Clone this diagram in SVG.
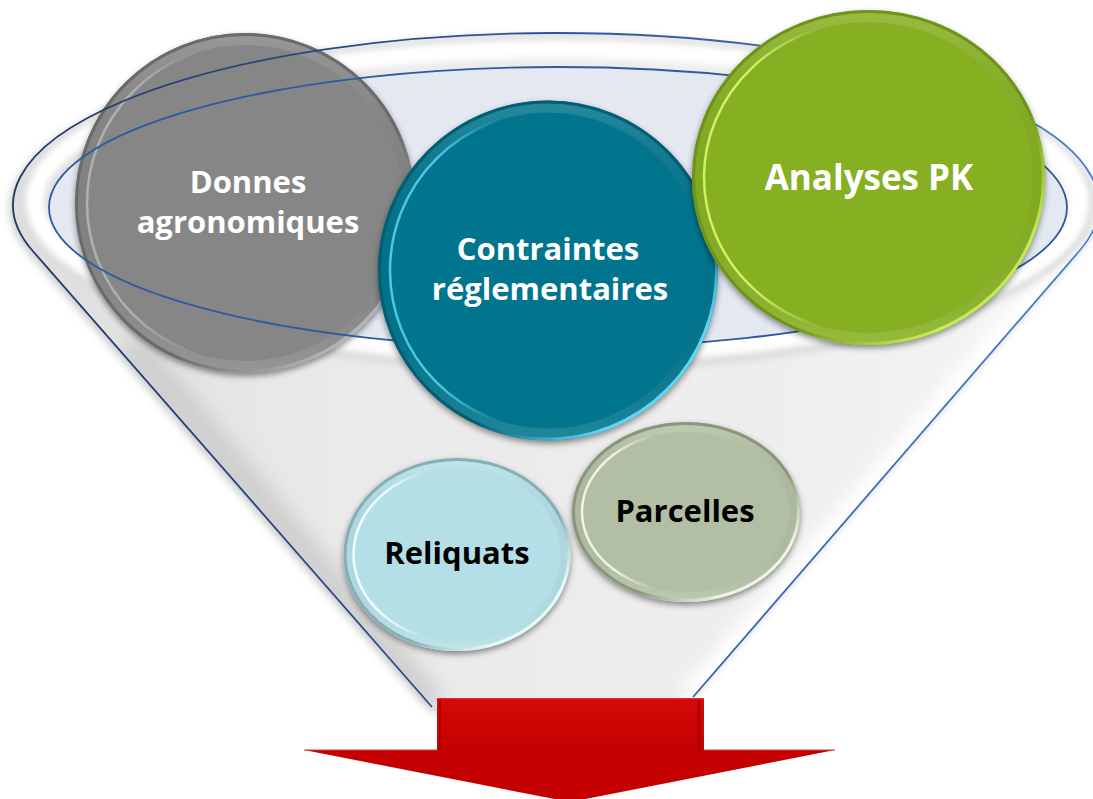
<svg xmlns="http://www.w3.org/2000/svg" width="1093" height="799" viewBox="0 0 1093 799">
<style>
.lbl{font-family:"Open Sans","Noto Sans","DejaVu Sans",sans-serif;font-weight:700;text-anchor:middle;font-size:31px}
.wt{fill:#ffffff}
.bk{fill:#000000}
.big{font-size:35px}
.ring{fill:none}
</style>
<defs>
  <filter id="sh" x="-20%" y="-20%" width="140%" height="140%">
    <feDropShadow dx="0" dy="3" stdDeviation="3" flood-color="#000" flood-opacity="0.45"/>
  </filter>
  <filter id="fsh" x="-10%" y="-10%" width="120%" height="120%">
    <feDropShadow dx="-3" dy="3" stdDeviation="4" flood-color="#000" flood-opacity="0.22"/>
  </filter>
  <filter id="blur3"><feGaussianBlur stdDeviation="3"/></filter>
  <filter id="blur9" x="-20%" y="-20%" width="140%" height="140%"><feGaussianBlur stdDeviation="9"/></filter>
  <clipPath id="funClip">
    <path d="M 432 707 L 32.8 251 A 543 172 0 1 1 1079.7 250.5 L 693 697 Q 690 705 682 705 L 440 708 Q 435 708 432 707 Z"/>
  </clipPath>
  <linearGradient id="body" x1="0" y1="0" x2="1" y2="0">
    <stop offset="0" stop-color="#dedede"/>
    <stop offset="0.3" stop-color="#eaeaea"/>
    <stop offset="0.7" stop-color="#eeeeee"/>
    <stop offset="1" stop-color="#f6f6f6"/>
  </linearGradient>
  <linearGradient id="outline" gradientUnits="userSpaceOnUse" x1="0" y1="0" x2="1093" y2="0">
    <stop offset="0" stop-color="#1f3864"/>
    <stop offset="0.5" stop-color="#2f5597"/>
    <stop offset="1" stop-color="#4a7fd0"/>
  </linearGradient>
  <linearGradient id="ringShade" x1="0" y1="0" x2="0" y2="1">
    <stop offset="0" stop-color="#ffffff" stop-opacity="0.14"/>
    <stop offset="0.5" stop-color="#000000" stop-opacity="0.03"/>
    <stop offset="1" stop-color="#ffffff" stop-opacity="0.12"/>
  </linearGradient>
  <linearGradient id="go-gray" x1="0" y1="0" x2="1" y2="1"><stop offset="0" stop-color="#6a6a6a"/><stop offset="0.62" stop-color="#6a6a6a"/><stop offset="0.85" stop-color="#b5b5b5"/><stop offset="1" stop-color="#c2c2c2"/></linearGradient>
  <linearGradient id="gi-gray" x1="0" y1="0" x2="1" y2="0"><stop offset="0" stop-color="#b0b0b0"/><stop offset="0.15" stop-color="#b0b0b0"/><stop offset="0.35" stop-color="#b0b0b0" stop-opacity="0"/></linearGradient>
  <linearGradient id="go-teal" x1="0" y1="0" x2="1" y2="1"><stop offset="0" stop-color="#045e73"/><stop offset="0.62" stop-color="#045e73"/><stop offset="0.82" stop-color="#5fd6f2"/><stop offset="1" stop-color="#5fd6f2"/></linearGradient>
  <linearGradient id="gi-teal" x1="0" y1="0" x2="1" y2="0"><stop offset="0" stop-color="#4cc8e6"/><stop offset="0.15" stop-color="#4cc8e6"/><stop offset="0.35" stop-color="#4cc8e6" stop-opacity="0"/></linearGradient>
  <linearGradient id="go-green" x1="0" y1="0" x2="1" y2="1"><stop offset="0" stop-color="#6d9418"/><stop offset="0.62" stop-color="#6d9418"/><stop offset="0.82" stop-color="#c3ec52"/><stop offset="1" stop-color="#c3ec52"/></linearGradient>
  <linearGradient id="gi-green" x1="0" y1="0" x2="1" y2="0"><stop offset="0" stop-color="#cdf263"/><stop offset="0.15" stop-color="#cdf263"/><stop offset="0.35" stop-color="#cdf263" stop-opacity="0"/></linearGradient>
  <linearGradient id="go-rel" x1="0" y1="0" x2="1" y2="1"><stop offset="0" stop-color="#86aeb6"/><stop offset="0.62" stop-color="#86aeb6"/><stop offset="0.82" stop-color="#e8fcff"/><stop offset="1" stop-color="#e8fcff"/></linearGradient>
  <linearGradient id="gi-rel" x1="0" y1="0" x2="1" y2="0"><stop offset="0" stop-color="#effdff"/><stop offset="0.15" stop-color="#effdff"/><stop offset="0.35" stop-color="#effdff" stop-opacity="0"/></linearGradient>
  <linearGradient id="go-par" x1="0" y1="0" x2="1" y2="1"><stop offset="0" stop-color="#8a967c"/><stop offset="0.62" stop-color="#8a967c"/><stop offset="0.82" stop-color="#eef6e2"/><stop offset="1" stop-color="#eef6e2"/></linearGradient>
  <linearGradient id="gi-par" x1="0" y1="0" x2="1" y2="0"><stop offset="0" stop-color="#eef6e2"/><stop offset="0.15" stop-color="#eef6e2"/><stop offset="0.35" stop-color="#eef6e2" stop-opacity="0"/></linearGradient>
  <linearGradient id="shaft" x1="0" y1="0" x2="0" y2="1">
    <stop offset="0" stop-color="#d60a0a"/>
    <stop offset="1" stop-color="#c40000"/>
  </linearGradient>
</defs>

<rect width="1093" height="799" fill="#ffffff"/>

<g id="funnel">
  <path d="M 432 707 L 32.8 251 A 543 172 0 1 1 1079.7 250.5 L 693 697 Q 690 705 682 705 L 440 708 Q 435 708 432 707 Z" fill="url(#body)" filter="url(#fsh)"/>
  <g clip-path="url(#funClip)">
    <line x1="130" y1="345" x2="432" y2="707" stroke="#c9c9c9" stroke-width="34" filter="url(#blur9)" opacity="0.8"/>
    <line x1="1082" y1="252" x2="692" y2="703" stroke="#ffffff" stroke-width="34" filter="url(#blur9)"/>
    <ellipse cx="557" cy="204" rx="535" ry="164" fill="none" stroke="#dcdcdc" stroke-width="8" filter="url(#blur3)"/>
    <ellipse cx="557" cy="201" rx="522" ry="152" fill="none" stroke="#ffffff" stroke-width="18" filter="url(#blur3)"/>
  </g>
  <ellipse cx="558" cy="207.5" rx="509" ry="140.5" fill="#e3e8f1"/>
</g>

<g id="node-donnes">
  <circle cx="245" cy="203" r="170" fill="#868686" filter="url(#sh)"/>
  <circle cx="245" cy="203" r="164" class="ring" stroke="url(#ringShade)" stroke-width="12"/>
  <circle cx="245" cy="203" r="168.5" class="ring" stroke="url(#go-gray)" stroke-width="3"/>
  <circle cx="245" cy="203" r="158" class="ring" stroke="url(#gi-gray)" stroke-width="2.5"/>
</g>

<g id="funnel-lines" fill="none">
  <path d="M 432 707 L 32.8 251 A 543 172 0 1 1 1079.7 250.5 L 693 697" stroke="url(#outline)" stroke-width="1.8"/>
  <ellipse cx="558" cy="207.5" rx="509" ry="140.5" stroke="#2d5aa0" stroke-width="1.8"/>
</g>

<g id="node-donnes-text">
  <text class="lbl wt" x="248" y="193">Donnes</text>
  <text class="lbl wt" x="248" y="233">agronomiques</text>
</g>

<g id="node-contraintes">
  <circle cx="548" cy="270.5" r="170" fill="#05748d" filter="url(#sh)"/>
  <circle cx="548" cy="270.5" r="164" class="ring" stroke="url(#ringShade)" stroke-width="12"/>
  <circle cx="548" cy="270.5" r="168.5" class="ring" stroke="url(#go-teal)" stroke-width="3"/>
  <circle cx="548" cy="270.5" r="158" class="ring" stroke="url(#gi-teal)" stroke-width="2.5"/>
  <text class="lbl wt" x="548" y="260">Contraintes</text>
  <text class="lbl wt" x="550" y="300">réglementaires</text>
</g>

<g id="node-analyses">
  <ellipse cx="868.5" cy="177.5" rx="176.5" ry="167.5" fill="#86b021" filter="url(#sh)"/>
  <ellipse cx="868.5" cy="177.5" rx="170.5" ry="161.5" class="ring" stroke="url(#ringShade)" stroke-width="12"/>
  <ellipse cx="868.5" cy="177.5" rx="175" ry="166" class="ring" stroke="url(#go-green)" stroke-width="3"/>
  <ellipse cx="868.5" cy="177.5" rx="164.5" ry="155.5" class="ring" stroke="url(#gi-green)" stroke-width="2.5"/>
  <text class="lbl wt big" x="869" y="190">Analyses PK</text>
</g>

<g id="node-reliquats">
  <ellipse cx="457" cy="554.5" rx="113.5" ry="96.5" fill="#b4dfe6" filter="url(#sh)"/>
  <ellipse cx="457" cy="554.5" rx="108.5" ry="91.5" class="ring" stroke="url(#ringShade)" stroke-width="10"/>
  <ellipse cx="457" cy="554.5" rx="112" ry="95" class="ring" stroke="url(#go-rel)" stroke-width="3"/>
  <ellipse cx="457" cy="554.5" rx="103.5" ry="86.5" class="ring" stroke="url(#gi-rel)" stroke-width="2.5"/>
  <text class="lbl bk" x="457" y="564">Reliquats</text>
</g>

<g id="node-parcelles">
  <ellipse cx="686" cy="512" rx="114" ry="90" fill="#b2bfa4" filter="url(#sh)"/>
  <ellipse cx="686" cy="512" rx="109" ry="85" class="ring" stroke="url(#ringShade)" stroke-width="10"/>
  <ellipse cx="686" cy="512" rx="112.5" ry="88.5" class="ring" stroke="url(#go-par)" stroke-width="3"/>
  <ellipse cx="686" cy="512" rx="104" ry="80" class="ring" stroke="url(#gi-par)" stroke-width="2.5"/>
  <text class="lbl bk" x="685" y="522">Parcelles</text>
</g>

<g id="arrow">
  <polygon points="437,698 704,698 704,750 835,750 570,802 304,750 437,750" fill="#c40000"/>
  <rect x="437" y="698" width="267" height="52" fill="url(#shaft)"/>
  <line x1="437" y1="698.5" x2="704" y2="698.5" stroke="#e03030" stroke-width="1"/>
  <line x1="699" y1="700" x2="699" y2="752" stroke="#a80000" stroke-width="3"/>
  <line x1="440" y1="700" x2="440" y2="752" stroke="#b00000" stroke-width="2"/>
  <line x1="304" y1="750" x2="437" y2="750" stroke="#d83a3a" stroke-width="1"/>
  <line x1="704" y1="750" x2="835" y2="750" stroke="#d83a3a" stroke-width="1"/>
</g>
</svg>
